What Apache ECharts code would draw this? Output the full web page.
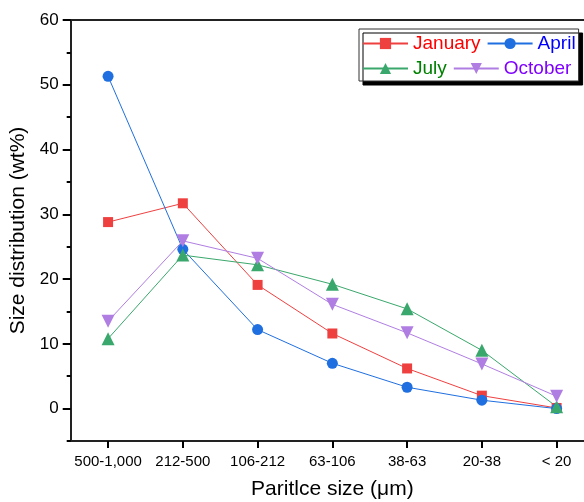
<!DOCTYPE html>
<html>
<head>
<meta charset="utf-8">
<script src="https://cdn.jsdelivr.net/npm/echarts@6/dist/echarts.min.js"></script>
<style>
  html, body { margin: 0; padding: 0; background: #fff; }
  #ParticleSizeEcharts { width: 584px; height: 502px; }
</style>
</head>
<body>
<div id="ParticleSizeEcharts"></div>
<script>
const categories = ['500-1,000', '212-500', '106-212', '63-106', '38-63', '20-38', '< 20']
const january = [28.8, 31.7, 19.1, 11.6, 6.2, 2.0, 0.1]
const april = [51.3, 24.6, 12.2, 7.0, 3.3, 1.3, 0.0]
const july = [10.8, 23.7, 22.2, 19.2, 15.4, 9.0, 0.3]
const october = [13.5, 25.9, 23.2, 16.1, 11.7, 6.9, 1.9]
const yMajorTicks = [0, 10, 20, 30, 40, 50, 60]
const yMinorTicks = [-5, 5, 15, 25, 35, 45, 55]

const font = 'Liberation Sans, Arial, sans-serif'
const axisColor = '#222'

function makeSeries(name, data, color, symbol, size) {
  return {
    name: name,
    type: 'line',
    data: data,
    symbol: symbol,
    symbolSize: size,
    lineStyle: { color: color, width: 1 },
    itemStyle: { color: color },
    emphasis: { disabled: true },
    z: 3
  }
}

const option = {
  animation: false,
  backgroundColor: '#fff',
  grid: { left: 70.7, right: -10, top: 20, bottom: 61, containLabel: false, outerBoundsMode: 'none' },
  legend: {
    left: 359,
    top: 29,
    width: 222,
    orient: 'horizontal',
    itemWidth: 45,
    itemHeight: 14,
    itemGap: 6,
    padding: [5, 3, 3, 3],
    backgroundColor: '#fff',
    borderColor: '#333',
    borderWidth: 1,
    borderRadius: 0,
    shadowColor: '#000',
    shadowBlur: 0,
    shadowOffsetX: 4,
    shadowOffsetY: 4,
    textStyle: { fontFamily: font, fontSize: 19, lineHeight: 19 },
    data: [
      { name: 'January', textStyle: { color: '#ff0000' } },
      { name: 'April', textStyle: { color: '#0000ff' } },
      { name: 'July', textStyle: { color: '#008000' } },
      { name: 'October', textStyle: { color: '#7f00ff' } }
    ]
  },
  xAxis: [
    {
      type: 'category',
      data: categories,
      boundaryGap: true,
      name: 'Paritlce size (μm)',
      nameLocation: 'middle',
      nameGap: 38,
      nameTextStyle: { fontFamily: font, fontSize: 21, color: '#000' },
      axisLine: { onZero: false, lineStyle: { color: axisColor, width: 2 } },
      axisTick: { show: true, alignWithLabel: true, interval: 0, length: 7, lineStyle: { color: '#000', width: 2 } },
      axisLabel: { fontFamily: font, fontSize: 15, color: '#000', margin: 13, interval: 0 },
      splitLine: { show: false }
    },
    {
      // top frame line
      type: 'category',
      position: 'top',
      data: categories,
      axisLine: { onZero: false, lineStyle: { color: axisColor, width: 2 } },
      axisTick: { show: false },
      axisLabel: { show: false },
      splitLine: { show: false }
    }
  ],
  yAxis: [
    {
      type: 'value',
      min: -5,
      max: 60,
      name: 'Size distribution (wt%)',
      nameLocation: 'middle',
      nameGap: 38,
      nameTextStyle: { fontFamily: font, fontSize: 21, color: '#000' },
      axisLine: { show: true, onZero: false, lineStyle: { color: axisColor, width: 2 } },
      axisTick: { show: true, length: 8, customValues: yMajorTicks, lineStyle: { color: '#000', width: 2 } },
      axisLabel: { fontFamily: font, fontSize: 17, color: '#000', margin: 12, customValues: yMajorTicks },
      splitLine: { show: false }
    },
    {
      // minor ticks
      type: 'value',
      position: 'left',
      min: -5,
      max: 60,
      axisLine: { show: false, onZero: false },
      axisTick: { show: true, length: 4, customValues: yMinorTicks, lineStyle: { color: '#000', width: 2 } },
      axisLabel: { show: false },
      splitLine: { show: false }
    }
  ],
  series: [
    makeSeries('January', january, '#ef4040', 'rect', 10),
    makeSeries('April', april, '#1f6fe0', 'circle', 11),
    makeSeries('July', july, '#3aa86c', 'triangle', 13),
    Object.assign(makeSeries('October', october, '#b07ee2', 'triangle', 13), { symbolRotate: 180 })
  ]
}

const chartDom = document.getElementById('ParticleSizeEcharts')
const myChart = echarts.init(chartDom, null, { renderer: 'canvas' })
option && myChart.setOption(option)
</script>
</body>
</html>
